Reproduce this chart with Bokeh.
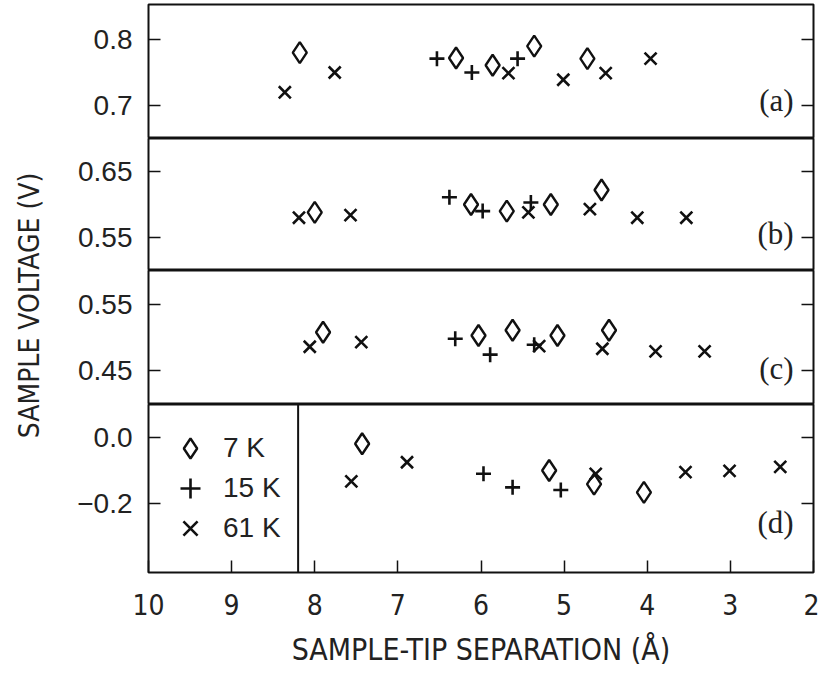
from math import pi
from bokeh.plotting import figure
from bokeh.layouts import row, column
from bokeh.models import (Range1d, FixedTicker, Span, Label, Legend, LegendItem,
                          CustomJSTickFormatter, LinearAxis)
from bokeh.embed import file_html
from bokeh.resources import INLINE

# ---------------- data ----------------
x_ticks = [10, 9, 8, 7, 6, 5, 4, 3, 2]
legend_labels = ["7 K", "15 K", "61 K"]
panel_names = ["(a)", "(b)", "(c)", "(d)"]
y_title = "SAMPLE VOLTAGE (V)"
x_title = "SAMPLE-TIP SEPARATION (Å)"

yticks_a = [0.7, 0.8]
yticks_b = [0.55, 0.65]
yticks_c = [0.45, 0.55]
yticks_d = [-0.2, 0.0]

# panel (a)
a_7k_x = [8.18, 6.30, 5.86, 5.36, 4.72]
a_7k_y = [0.780, 0.772, 0.761, 0.790, 0.771]
a_15k_x = [6.53, 6.11, 5.56]
a_15k_y = [0.771, 0.750, 0.771]
a_61k_x = [8.36, 7.76, 5.67, 5.01, 4.50, 3.96]
a_61k_y = [0.720, 0.750, 0.749, 0.739, 0.749, 0.771]

# panel (b)
b_7k_x = [8.00, 6.12, 5.69, 5.16, 4.55]
b_7k_y = [0.588, 0.600, 0.590, 0.600, 0.622]
b_15k_x = [6.38, 5.98, 5.40]
b_15k_y = [0.611, 0.590, 0.603]
b_61k_x = [8.19, 7.57, 5.43, 4.69, 4.12, 3.53]
b_61k_y = [0.580, 0.584, 0.588, 0.593, 0.580, 0.580]

# panel (c)
c_7k_x = [7.90, 6.03, 5.62, 5.08, 4.46]
c_7k_y = [0.508, 0.503, 0.511, 0.503, 0.511]
c_15k_x = [6.31, 5.89, 5.36]
c_15k_y = [0.498, 0.474, 0.489]
c_61k_x = [8.06, 7.44, 5.30, 4.54, 3.90, 3.31]
c_61k_y = [0.486, 0.493, 0.487, 0.483, 0.479, 0.479]

# panel (d)
d_7k_x = [7.43, 5.18, 4.64, 4.04]
d_7k_y = [-0.018, -0.099, -0.140, -0.165]
d_15k_x = [5.97, 5.62, 5.04]
d_15k_y = [-0.109, -0.150, -0.158]
d_61k_x = [7.56, 6.89, 4.62, 3.54, 3.01, 2.40]
d_61k_y = [-0.132, -0.074, -0.109, -0.104, -0.100, -0.088]

divider_x = 8.2

# ---------------- style ----------------
INK = "#111111"
TXT = "#222222"
NARROW = "'Liberation Sans Narrow', 'DejaVu Sans Condensed', 'Arial Narrow', sans-serif"
SANS = "Liberation Sans"
SERIF = "Liberation Serif"
FRAME_W = 665
LEFT_B = 90
RIGHT_B = 6
TITLE_W = 58
TOTAL_H = 676

x_range = Range1d(10, 2)


def fmt(decimals):
    return CustomJSTickFormatter(args=dict(d=decimals),
                                 code="return tick.toFixed(d).replace('-', '\u2212')")


def blank():
    return CustomJSTickFormatter(code="return ''")


def make_panel(yr, yticks, decimals, frame_h, top_b, bottom_b, show_x, name, name_y):
    p = figure(frame_width=FRAME_W, frame_height=frame_h, x_range=x_range,
               y_range=Range1d(*yr), output_backend="svg", toolbar_location=None,
               min_border_left=LEFT_B, min_border_right=RIGHT_B,
               min_border_top=top_b, min_border_bottom=bottom_b,
               x_axis_location="below" if show_x else None, y_axis_location="left",
               background_fill_color="white", border_fill_color="white",
               outline_line_color=INK, outline_line_width=2)
    p.xgrid.visible = False
    p.ygrid.visible = False

    ya = p.yaxis[0]
    ya.ticker = FixedTicker(ticks=yticks)
    ya.formatter = fmt(decimals)
    ya.major_tick_in = 12
    ya.major_tick_out = 0
    ya.major_tick_line_width = 1.5
    ya.major_tick_line_color = INK
    ya.minor_tick_line_color = None
    ya.axis_line_color = None
    ya.major_label_standoff = 16
    ya.major_label_text_font = SANS
    ya.major_label_text_font_size = "28px"
    ya.major_label_text_color = TXT

    ra = LinearAxis(ticker=FixedTicker(ticks=yticks), formatter=blank(),
                    major_tick_in=12, major_tick_out=0, major_tick_line_width=1.5,
                    major_tick_line_color=INK, minor_tick_line_color=None,
                    axis_line_color=None, major_label_standoff=0,
                    major_label_text_font_size="1px")
    p.add_layout(ra, "right")

    if show_x:
        xa = p.xaxis[0]
        xa.ticker = FixedTicker(ticks=x_ticks)
        xa.major_tick_in = 12
        xa.major_tick_out = 0
        xa.major_tick_line_width = 1.5
        xa.major_tick_line_color = INK
        xa.minor_tick_line_color = None
        xa.axis_line_color = None
        xa.major_label_standoff = 21
        xa.major_label_text_font = NARROW
        xa.major_label_text_font_size = "28px"
        xa.major_label_text_color = TXT
        xa.axis_label = x_title
        xa.axis_label_standoff = 14
        xa.axis_label_text_font = NARROW
        xa.axis_label_text_font_size = "30px"
        xa.axis_label_text_font_style = "normal"
        xa.axis_label_text_color = TXT

    p.add_layout(Label(x=2.24, y=name_y, text=name, text_font=SERIF,
                       text_font_size="31px", text_align="right",
                       text_baseline="middle", text_color=TXT))
    return p


def add_series(p, xs7, ys7, xs15, ys15, xs61, ys61):
    r7 = p.scatter(xs7, ys7, marker="diamond", size=21, fill_color=None,
                   line_color=INK, line_width=2.4)
    r15 = p.scatter(xs15, ys15, marker="cross", size=15, line_color=INK,
                    line_width=2.6)
    r61 = p.scatter(xs61, ys61, marker="x", size=17, line_color=INK,
                    line_width=2.6)
    return r7, r15, r61


pa = make_panel((0.65, 0.853), yticks_a, 1, 134, 4, 0, False, panel_names[0], 0.707)
pb = make_panel((0.50, 0.70), yticks_b, 2, 132, 0, 0, False, panel_names[1], 0.556)
pc = make_panel((0.3985, 0.6015), yticks_c, 2, 134, 0, 0, False, panel_names[2], 0.453)
pd = make_panel((-0.408, 0.101), yticks_d, 1, 168, 0, 104, True, panel_names[3], -0.258)

add_series(pa, a_7k_x, a_7k_y, a_15k_x, a_15k_y, a_61k_x, a_61k_y)
add_series(pb, b_7k_x, b_7k_y, b_15k_x, b_15k_y, b_61k_x, b_61k_y)
add_series(pc, c_7k_x, c_7k_y, c_15k_x, c_15k_y, c_61k_x, c_61k_y)
rd = add_series(pd, d_7k_x, d_7k_y, d_15k_x, d_15k_y, d_61k_x, d_61k_y)

pd.add_layout(Span(location=divider_x, dimension="height", line_color=INK,
                   line_width=2))

# one single-entry legend per temperature, stacked 40 px apart
legend_offsets = [99, 59, 19]
for lab, r, off in zip(legend_labels, rd, legend_offsets):
    lg = Legend(items=[LegendItem(label=lab, renderers=[r])],
                location=(17, off), orientation="vertical",
                background_fill_alpha=0, border_line_color=None,
                padding=0, margin=0, spacing=0,
                glyph_width=50, glyph_height=50, label_height=50,
                label_standoff=8, label_text_font=SANS,
                label_text_font_size="28px", label_text_color=TXT)
    pd.add_layout(lg)

# y-axis title panel
tp = figure(width=TITLE_W, height=TOTAL_H, x_range=Range1d(0, TITLE_W),
            y_range=Range1d(0, TOTAL_H),
            output_backend="svg", toolbar_location=None, min_border=0,
            x_axis_location=None, y_axis_location=None, outline_line_color=None,
            background_fill_color="white", border_fill_color="white")
tp.xgrid.visible = False
tp.ygrid.visible = False
tp.add_layout(Label(x=29, y=371, text=y_title, angle=pi / 2, text_align="center",
                    text_baseline="middle", text_font=NARROW,
                    text_font_size="28px", text_color=TXT))

layout = row(tp, column(pa, pb, pc, pd))

open("out.html", "w").write(file_html(layout, INLINE))
